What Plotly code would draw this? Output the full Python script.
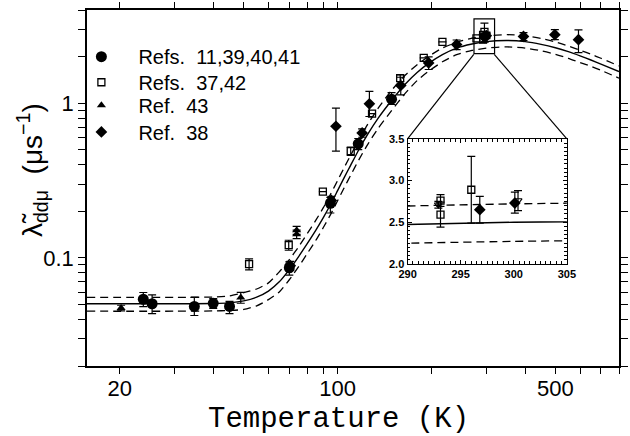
import plotly.graph_objects as go
import math

# ---------------- data ----------------
# fitted curve (solid) and its uncertainty band (dashed)
T_fit = [15.7, 30, 40, 45, 50, 55, 60, 65, 70, 75, 80, 85, 90, 95, 100, 105, 110, 117, 125, 135,
         149, 165, 180, 197, 217, 241, 270, 300, 350, 400, 450, 500, 550, 600, 650, 700, 800]
fit_mid = [0.0505, 0.0505, 0.0507, 0.0512, 0.0527, 0.0557, 0.0610, 0.0700, 0.0840, 0.102,
           0.124, 0.150, 0.182, 0.222, 0.272, 0.330, 0.395, 0.500, 0.630, 0.800,
           1.04, 1.33, 1.58, 1.82, 2.06, 2.27, 2.41, 2.50, 2.54, 2.50,
           2.40, 2.28, 2.15, 2.02, 1.90, 1.79, 1.60]
fit_hi = [0.0556, 0.0556, 0.0558, 0.0568, 0.0596, 0.0629, 0.0689, 0.0812, 0.0974, 0.118,
          0.144, 0.174, 0.211, 0.258, 0.316, 0.383, 0.458, 0.580, 0.731, 0.928,
          1.21, 1.52, 1.77, 2.02, 2.27, 2.47, 2.63, 2.72, 2.77, 2.73,
          2.62, 2.49, 2.34, 2.20, 2.07, 1.95, 1.74]
fit_lo = [0.0452, 0.0452, 0.0454, 0.0457, 0.0464, 0.0490, 0.0537, 0.0602, 0.0722, 0.0877,
          0.107, 0.129, 0.157, 0.191, 0.234, 0.284, 0.340, 0.430, 0.542, 0.688,
          0.894, 1.16, 1.40, 1.62, 1.85, 2.06, 2.19, 2.27, 2.31, 2.27,
          2.18, 2.07, 1.95, 1.83, 1.73, 1.63, 1.45]

# Refs. 11,39,40,41 (filled circles)
T_a = [23.8, 25.4, 34.7, 39.9, 45.0, 70.0, 94.8, 116.5, 149.0]
L_a = [0.0540, 0.0505, 0.0485, 0.0508, 0.0485, 0.0862, 0.225, 0.546, 1.06]
Ea_up = [0.0057, 0.0071, 0.0070, 0.0037, 0.0039, 0.0080, 0.021, 0.045, 0.11]
Ea_dn = [0.0056, 0.0069, 0.0061, 0.0037, 0.0049, 0.0088, 0.030, 0.045, 0.08]

# Refs. 37,42 (open squares)
T_b = [52.0, 69.7, 89.7, 110.2, 129.0, 158.8, 189.0, 217.0, 279.0, 293.1, 293.1, 296.0]
L_b = [0.0911, 0.121, 0.268, 0.490, 0.855, 1.45, 1.96, 2.49, 2.62, 2.76, 2.59, 2.89]
Eb = [0.0075, 0.009, 0.0, 0.03, 0.0, 0.07, 0.0, 0.0, 0.0, 0.07, 0.15, 0.40]

# Ref. 43 (filled triangles)
T_c = [20.2, 48.9, 73.9, 73.9]
L_c = [0.0474, 0.0554, 0.151, 0.142]
Ec = [0.0020, 0.0045, 0.009, 0.009]

# Ref. 38 (filled diamonds)
T_d = [70.5, 95.5, 98.8, 119.9, 126.5, 159.5, 196.0, 241.0, 296.8, 300.1, 395.0, 498.0, 593.0]
L_d = [0.089, 0.235, 0.709, 0.642, 0.990, 1.30, 1.82, 2.39, 2.65, 2.73, 2.70, 2.77, 2.57]
Ed_up = [0.006, 0.015, 0.22, 0.04, 0.20, 0.17, 0.17, 0.17, 0.16, 0.13, 0.16, 0.22, 0.41]
Ed_dn = [0.006, 0.015, 0.22, 0.04, 0.17, 0.17, 0.17, 0.17, 0.16, 0.12, 0.16, 0.20, 0.45]

# unlabelled open inverted triangles seen in the inset
T_e = [292.9, 300.4]
L_e = [2.71, 2.76]
Ee = [0.04, 0.12]

# axis ticks
x_tickvals = [20, 30, 40, 50, 60, 70, 80, 90, 100, 200, 300, 400, 500, 600, 700, 800]
x_ticktext = ["20", "", "", "", "", "", "", "", "100", "", "", "", "500", "", "", ""]
y_tickvals = [0.02, 0.03, 0.04, 0.05, 0.06, 0.07, 0.08, 0.09, 0.1,
              0.2, 0.3, 0.4, 0.5, 0.6, 0.7, 0.8, 0.9, 1, 2, 3, 4]
y_ticktext = ["", "", "", "", "", "", "", "", "0.1",
              "", "", "", "", "", "", "", "", "1", "", "", ""]

legend_names = ["Refs.  11,39,40,41", "Refs.  37,42", "Ref.  43", "Ref.  38"]

# ---------------- figure ----------------
fig = go.Figure()
BLACK = "#000000"
SANS = "Liberation Sans, Arial, sans-serif"


def add_curves(xa, ya):
    fig.add_trace(go.Scatter(x=T_fit, y=fit_mid, mode="lines", xaxis=xa, yaxis=ya,
                             line=dict(color=BLACK, width=1.4, shape="spline", smoothing=0.6),
                             showlegend=False, hoverinfo="skip"))
    for arr in (fit_hi, fit_lo):
        fig.add_trace(go.Scatter(x=T_fit, y=arr, mode="lines", xaxis=xa, yaxis=ya,
                                 line=dict(color=BLACK, width=1.3, dash="8px,5px",
                                           shape="spline", smoothing=0.6),
                                 showlegend=False, hoverinfo="skip"))


def add_points(xa, ya, show):
    eb = dict(type="data", symmetric=False, color=BLACK, thickness=1.2, width=4)
    fig.add_trace(go.Scatter(
        x=T_a, y=L_a, mode="markers", name=legend_names[0], xaxis=xa, yaxis=ya,
        marker=dict(symbol="circle", size=11, color=BLACK), legend="legend",
        error_y=dict(eb, array=Ea_up, arrayminus=Ea_dn), showlegend=show))
    fig.add_trace(go.Scatter(
        x=T_b, y=L_b, mode="markers", name=legend_names[1], xaxis=xa, yaxis=ya,
        marker=dict(symbol="square-open", size=7, color=BLACK, line=dict(width=1.3)),
        legend="legend2",
        error_y=dict(eb, array=Eb, arrayminus=Eb), showlegend=show))
    fig.add_trace(go.Scatter(
        x=T_c, y=L_c, mode="markers", name=legend_names[2], xaxis=xa, yaxis=ya,
        marker=dict(symbol="triangle-up", size=8, color=BLACK), legend="legend3",
        error_y=dict(eb, array=Ec, arrayminus=Ec), showlegend=show))
    fig.add_trace(go.Scatter(
        x=T_d, y=L_d, mode="markers", name=legend_names[3], xaxis=xa, yaxis=ya,
        marker=dict(symbol="diamond", size=9, color=BLACK), legend="legend4",
        error_y=dict(eb, array=Ed_up, arrayminus=Ed_dn), showlegend=show))
    fig.add_trace(go.Scatter(
        x=T_e, y=L_e, mode="markers", xaxis=xa, yaxis=ya,
        marker=dict(symbol="triangle-down-open", size=7, color=BLACK, line=dict(width=1.1)),
        error_y=dict(eb, array=Ee, arrayminus=Ee), showlegend=False))


add_curves("x", "y")
add_points("x", "y", True)
add_curves("x2", "y2")
add_points("x2", "y2", False)

MAINFONT = dict(family=SANS, size=22, color=BLACK)


def legend_box(yc):
    return dict(x=-0.0425, y=yc, xanchor="left", yanchor="middle",
                bgcolor="rgba(0,0,0,0)", borderwidth=0,
                font=dict(family=SANS, size=20, color=BLACK), itemwidth=64)


INSET_TICKFONT = dict(family=SANS, size=11, color=BLACK, weight="bold")

fig.update_layout(
    width=630, height=436,
    margin=dict(l=87, r=2, t=7, b=70),
    paper_bgcolor="white", plot_bgcolor="white",
    font=MAINFONT,
    xaxis=dict(type="log", range=[math.log10(15.7), math.log10(800)],
               tickvals=x_tickvals, ticktext=x_ticktext,
               ticks="outside", ticklen=6, tickwidth=1, tickcolor=BLACK,
               ticklabelstandoff=-4,
               showline=True, linecolor=BLACK, linewidth=1.5, mirror="ticks",
               showgrid=False, zeroline=False, tickfont=MAINFONT),
    yaxis=dict(type="log", range=[math.log10(0.02), math.log10(4)],
               tickvals=y_tickvals, ticktext=y_ticktext,
               ticks="outside", ticklen=7, tickwidth=1, tickcolor=BLACK,
               showline=True, linecolor=BLACK, linewidth=1.5, mirror="ticks",
               showgrid=False, zeroline=False, tickfont=MAINFONT),
    xaxis2=dict(domain=[0.6026, 0.902], anchor="y2", range=[290, 305],
                tickvals=[290, 295, 300, 305], ticks="inside", ticklen=4, tickcolor=BLACK,
                minor=dict(dtick=0.5, ticks="inside", ticklen=2.5, tickcolor=BLACK),
                showline=True, linecolor=BLACK, linewidth=1.2, mirror="allticks",
                showgrid=False, zeroline=False, tickfont=INSET_TICKFONT),
    yaxis2=dict(domain=[0.2869, 0.6379], anchor="x2", range=[2.0, 3.5],
                tickvals=[2.0, 2.5, 3.0, 3.5], ticktext=["2.0", "2.5", "3.0", "3.5"],
                ticks="inside", ticklen=4, tickcolor=BLACK,
                minor=dict(dtick=0.05, ticks="inside", ticklen=2.5, tickcolor=BLACK),
                showline=True, linecolor=BLACK, linewidth=1.2, mirror="allticks",
                showgrid=False, zeroline=False, tickfont=INSET_TICKFONT),
    legend=legend_box(0.869),
    legend2=legend_box(0.797),
    legend3=legend_box(0.7326),
    legend4=legend_box(0.6574),
    showlegend=True,
)

# zoom box around 290-305 K and connectors to the inset
fig.add_shape(type="rect", xref="x", yref="y", x0=274, x1=319, y0=2.09, y1=3.5,
              line=dict(color=BLACK, width=1.2))
fig.add_shape(type="line", xref="paper", yref="paper", x0=0.727, y0=0.8755, x1=0.6026, y1=0.6379,
              line=dict(color=BLACK, width=1.2))
fig.add_shape(type="line", xref="paper", yref="paper", x0=0.7655, y0=0.8755, x1=0.902, y1=0.6379,
              line=dict(color=BLACK, width=1.2))

# axis titles
fig.add_annotation(text="Temperature (K)", xref="paper", yref="paper", x=0.473, y=-0.150,
                   xanchor="center", yanchor="middle", showarrow=False,
                   font=dict(family="Liberation Mono, Courier New, monospace", size=29, color=BLACK))
fig.add_annotation(text="λ\u0303<sub>ddμ</sub>  (μs<sup>−1</sup>)", xref="paper", yref="paper",
                   x=-0.103, y=0.551, xanchor="center", yanchor="middle", textangle=-90,
                   showarrow=False,
                   font=dict(family=SANS, size=28, color=BLACK))

fig.write_html("out.html")
